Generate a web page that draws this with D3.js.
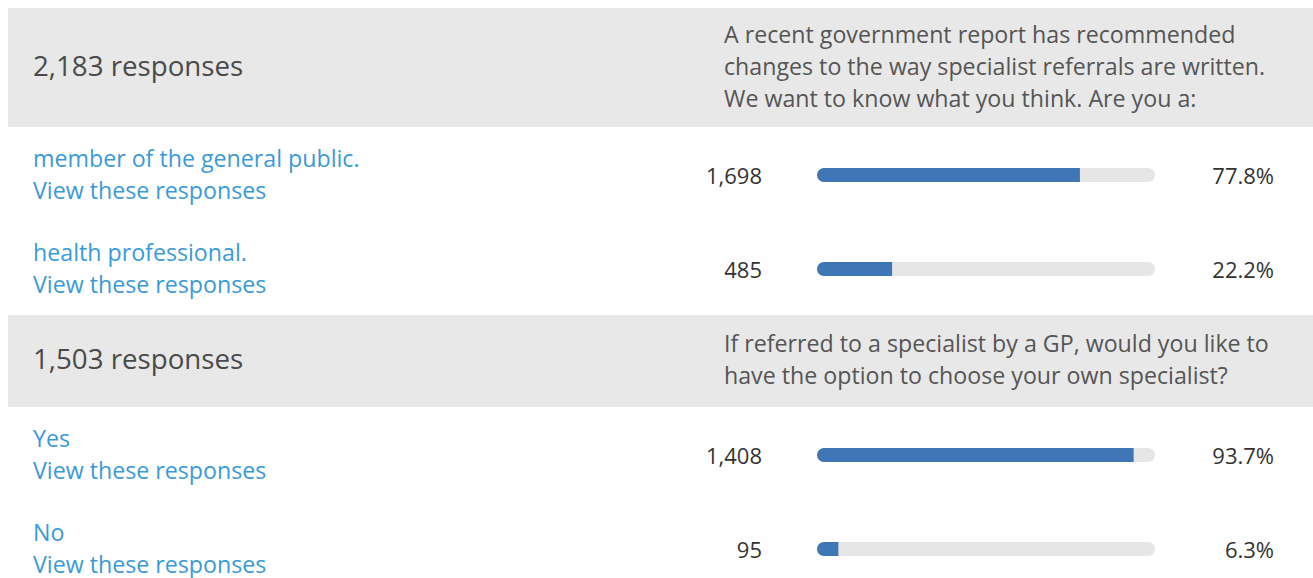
<!DOCTYPE html>
<html>
<head>
<meta charset="utf-8">
<script src="https://cdn.jsdelivr.net/npm/d3@7"></script>
<style>
  body { margin: 0; background: #fff; }
  svg text { font-family: "Open Sans", sans-serif; }
</style>
</head>
<body>
<div id="chart"></div>
<script>
// survey data
const q1Total = 2183;
const q1Question = ["A recent government report has recommended",
                    "changes to the way specialist referrals are written.",
                    "We want to know what you think. Are you a:"];
const q1Answers = ["member of the general public.", "health professional."];
const q1Counts = [1698, 485];

const q2Total = 1503;
const q2Question = ["If referred to a specialist by a GP, would you like to",
                    "have the option to choose your own specialist?"];
const q2Answers = ["Yes", "No"];
const q2Counts = [1408, 95];

const questions = [
    {total: q1Total, lines: q1Question, answers: q1Answers, counts: q1Counts},
    {total: q2Total, lines: q2Question, answers: q2Answers, counts: q2Counts}
];

const width = 1313, height = 578;
const lineH = 32, rowH = 94, barH = 14;

const svg = d3.select("#chart").append("svg")
    .attr("width", width)
    .attr("height", height);

// percent -> bar pixels
const x = d3.scaleLinear().domain([0, 100]).range([817, 1155]);
const fmt = d3.format(",");
const pct = d3.format(".1f");

let y = 8;
questions.forEach((q, qi) => {
    let headH = q.lines.length * 27 + 38;
    let mid = y + headH / 2;

    let head = svg.append("g").attr("class", "head");
    head.append("rect")
        .attr("x", 8).attr("y", y)
        .attr("width", width - 8).attr("height", headH)
        .attr("fill", "#e8e8e8");

    head.append("text")
        .attr("x", 33).attr("y", mid + 8)
        .attr("font-size", 27.7)
        .attr("fill", "#4a4a4a")
        .text(fmt(q.total) + " responses");

    head.selectAll(".qline")
        .data(q.lines)
        .join("text")
        .attr("class", "qline")
        .attr("x", 724)
        .attr("y", (d, i) => mid - (q.lines.length - 1) * lineH / 2 + i * lineH + 7)
        .attr("font-size", 23.2)
        .attr("fill", "#555")
        .text(d => d);

    y += headH;

    let rows = q.answers.map((a, i) => ({
        label: a,
        count: q.counts[i],
        pct: q.counts[i] / q.total * 100
    }));

    let row = svg.selectAll(".row" + qi)
        .data(rows)
        .join("g")
        .attr("class", "row" + qi)
        .attr("transform", (d, i) => `translate(0, ${y + i * rowH})`);

    row.append("text")
        .attr("x", 33).attr("y", 40)
        .attr("font-size", 23.2)
        .attr("fill", "#3a9ad9")
        .text(d => d.label);

    row.append("text")
        .attr("x", 33).attr("y", 72)
        .attr("font-size", 23.2)
        .attr("fill", "#3a9ad9")
        .text("View these responses");

    row.append("text")
        .attr("x", 762).attr("y", 57)
        .attr("text-anchor", "end")
        .attr("font-size", 22)
        .attr("fill", "#333")
        .text(d => fmt(d.count));

    row.append("clipPath")
        .attr("id", (d, i) => `clip-${qi}-${i}`)
        .append("rect")
        .attr("x", x(0)).attr("y", 48 - barH / 2)
        .attr("width", x(100) - x(0)).attr("height", barH)
        .attr("rx", barH / 2);

    row.append("rect")
        .attr("x", x(0)).attr("y", 48 - barH / 2)
        .attr("width", x(100) - x(0)).attr("height", barH)
        .attr("rx", barH / 2)
        .attr("fill", "#e6e6e6");

    row.append("rect")
        .attr("clip-path", (d, i) => `url(#clip-${qi}-${i})`)
        .attr("x", x(0)).attr("y", 48 - barH / 2)
        .attr("width", d => x(d.pct) - x(0)).attr("height", barH)
        .attr("fill", "#3f76b6");

    row.append("text")
        .attr("x", 1274).attr("y", 57)
        .attr("text-anchor", "end")
        .attr("font-size", 22)
        .attr("fill", "#333")
        .text(d => pct(d.pct) + "%");

    y += rows.length * rowH;
});
</script>
</body>
</html>
